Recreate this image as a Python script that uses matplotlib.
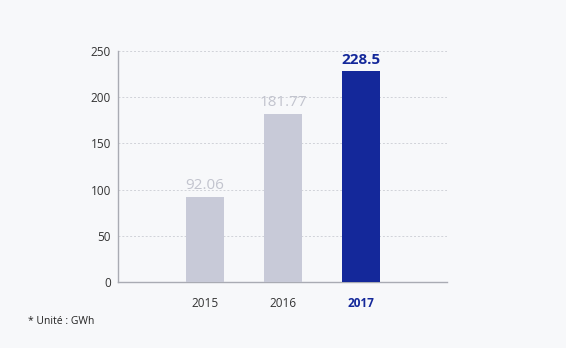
import matplotlib
matplotlib.use("Agg")
import matplotlib.pyplot as plt

years = ["2015", "2016", "2017"]
values = [92.06, 181.77, 228.5]
value_labels = ["92.06", "181.77", "228.5"]
y_ticks = [0, 50, 100, 150, 200, 250]

bg = "#f7f8fa"
gray_bar = "#c8cad8"
blue_bar = "#14289a"
colors = [gray_bar, gray_bar, blue_bar]
label_colors = ["#c2c4ce", "#c2c4ce", blue_bar]

plt.rcParams["font.family"] = ["Open Sans", "DejaVu Sans"]

fig = plt.figure(figsize=(5.66, 3.48), dpi=100, facecolor=bg)
ax = fig.add_axes([118 / 566, 66 / 348, 329 / 566, 231 / 348])
ax.set_facecolor(bg)

x = list(range(len(years)))
ax.bar(x, values, width=0.49, color=colors, zorder=3)

for xi, v, txt, c in zip(x, values, value_labels, label_colors):
    bold = c == blue_bar
    ax.text(xi, v + 4, txt, ha="center", va="bottom", fontsize=11,
            color=c, fontweight="bold" if bold else "normal", zorder=4)

ax.set_xlim(-1.115, 3.1)
ax.set_ylim(0, 250)
ax.set_yticks(y_ticks)
ax.set_yticklabels([str(t) for t in y_ticks], fontsize=8.5, color="#333333")
ax.set_xticks(x)
ax.set_xticklabels(years, fontsize=8.5, color="#333333")
for lbl in ax.get_xticklabels():
    if lbl.get_text() == "2017":
        lbl.set_color(blue_bar)
        lbl.set_fontweight("bold")
ax.tick_params(axis="both", length=0)
ax.tick_params(axis="x", pad=11)
ax.tick_params(axis="y", pad=5)

ax.yaxis.grid(True, linestyle=(0, (2, 2)), color="#d0d2d8", linewidth=0.7, zorder=0)
ax.set_axisbelow(True)

for side in ["top", "right"]:
    ax.spines[side].set_visible(False)
ax.spines["left"].set_color("#a9abb3")
ax.spines["bottom"].set_color("#a9abb3")
ax.spines["left"].set_linewidth(1)
ax.spines["bottom"].set_linewidth(1)

fig.text(28 / 566, 1 - 322 / 348, "* Unité : GWh", fontsize=7.5, color="#222222",
         ha="left", va="center")

fig.savefig("out.png", dpi=100, facecolor=bg)
